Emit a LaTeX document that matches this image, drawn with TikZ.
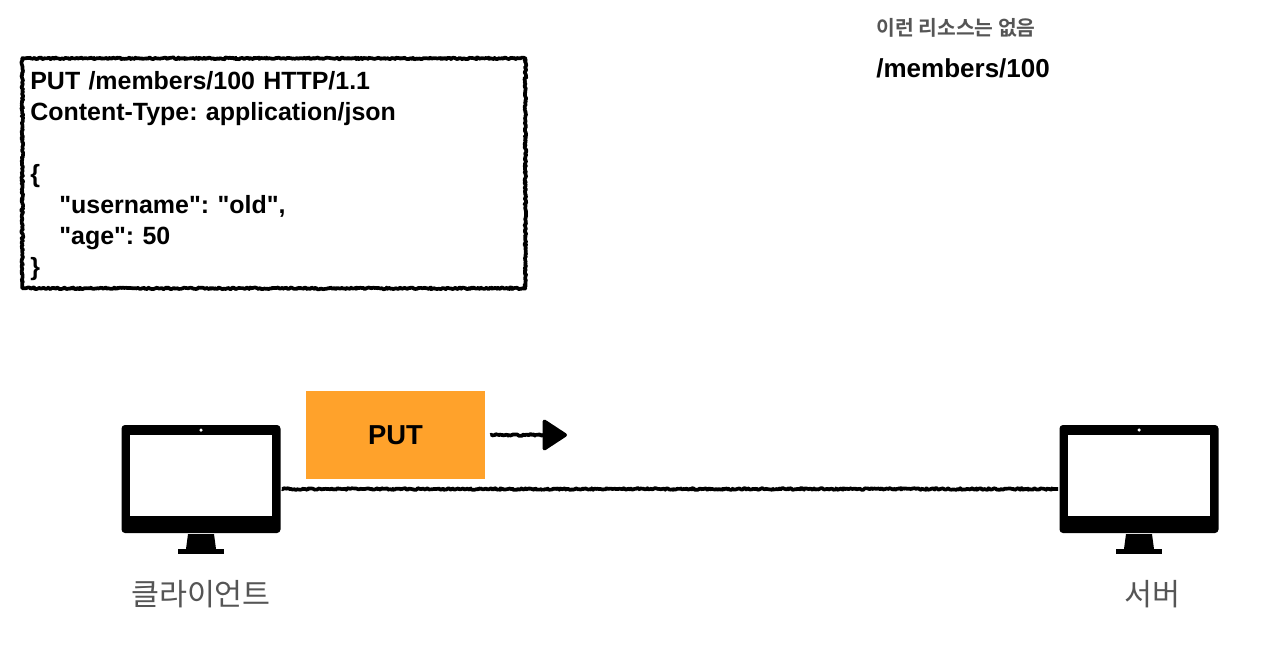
\documentclass[tikz,border=0pt]{standalone}
\usepackage{fontspec}
\setmainfont{Liberation Sans}
\newfontfamily\medfont[WordSpace=0.85]{Liberation Sans Bold}
\newfontfamily\krfont{Noto Sans CJK KR}
\newfontfamily\krboldfont[BoldFont={Noto Sans CJK KR Bold}]{Noto Sans CJK KR}
\usepackage{xcolor}
\usetikzlibrary{arrows.meta, positioning, decorations.pathmorphing}
\definecolor{putorange}{HTML}{FFA22B}
\definecolor{labelgray}{HTML}{555555}
\frenchspacing

\begin{document}
\begin{tikzpicture}[
    roughline/.style={
        draw=black,
        line width=2.1pt,
        line join=round,
        decorate,
        decoration={random steps, segment length=0.7pt, amplitude=0.5pt, post length=3pt}
    },
    messagebox/.style={
        roughline,
        rounded corners=0pt,
        align=left,
        anchor=north west,
        minimum width=10.06cm,
        minimum height=4.6cm,
        text width=9.74cm,
        inner xsep=0.16cm,
        font=\medfont\fontsize{14.2pt}{17.65pt}\selectfont
    },
    methodbox/.style={
        fill=putorange,
        minimum width=3.58cm,
        minimum height=1.76cm,
        font=\medfont\fontsize{15.6pt}{18pt}\selectfont
    },
    caption/.style={
        text=labelgray,
        font=\krfont\fontsize{17.3pt}{20pt}\selectfont
    },
    pics/monitor/.style={
        code={
            \node[fill=black, rounded corners=2pt, minimum width=3.18cm, minimum height=2.16cm] (-body) at (0,0) {};
            \fill[white] (-1.42,-0.74) rectangle (1.42,0.88);
            \fill[white] (0,0.98) circle (0.035);
            \fill[black] (-0.26,-1.1) -- (0.26,-1.1) -- (0.3,-1.4) -- (-0.3,-1.4) -- cycle;
            \fill[black] (-0.46,-1.4) rectangle (0.46,-1.5);
        }
    }
]

\useasboundingbox (0,0) rectangle (25.4,-13.04);

\node[messagebox] (message) at (0.41,-1.13)
{\rule{0pt}{13.6pt}PUT /members/100 HTTP/1.1\\
Content-Type: application/json\\
\mbox{}\\
\{\\
\hspace*{0.58cm}"username": "old",\\
\hspace*{0.58cm}"age": 50\\
\}};

\node[anchor=west, inner sep=0pt, text=labelgray, font=\krboldfont\bfseries\fontsize{11.6pt}{14pt}\selectfont] (note) at (17.52,-0.56)
{이런 리소스는 없음};
\node[anchor=west, inner sep=0pt, font=\medfont\fontsize{14.8pt}{18pt}\selectfont] (resource) at (17.52,-1.36)
{/members/100};

\pic (client) at (4.02,-9.58) {monitor};
\pic (server) at (22.78,-9.58) {monitor};

\node[caption] (clientlabel) at (4.02,-11.88) {클라이언트};
\node[caption] (serverlabel) at (23.04,-11.88) {서버};

\node[methodbox] (put) at (7.91,-8.7) {PUT};
\coordinate (arrowend) at (11.34,-8.7);

\draw[roughline, -{Triangle[length=0.52cm, width=0.66cm, round]}] ([xshift=0.1cm]put.east) -- (arrowend);
\draw[roughline] ([xshift=0.02cm, yshift=-0.2cm]client-body.east) -- ([xshift=-0.02cm, yshift=-0.2cm]server-body.west);

\end{tikzpicture}
\end{document}
